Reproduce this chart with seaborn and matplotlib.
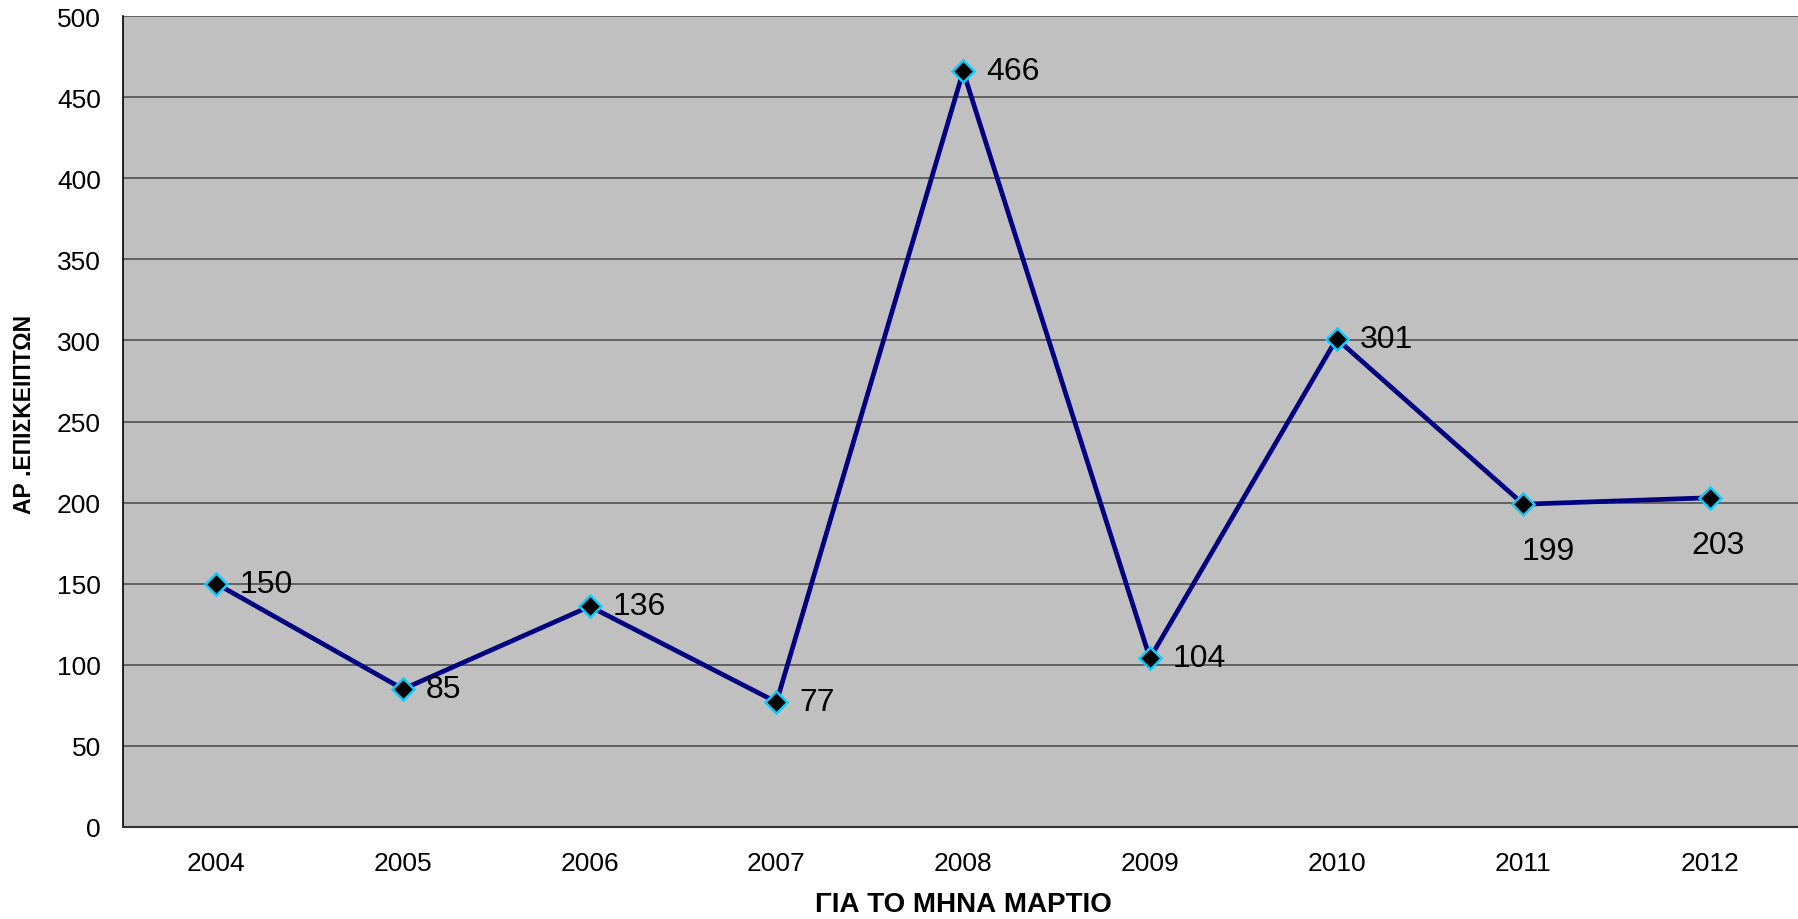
import matplotlib
matplotlib.use('Agg')
import matplotlib.pyplot as plt
import seaborn as sns
import pandas as pd

# Δεδομένα (επισκέπτες για τον μήνα Μάρτιο)
years = ['2004', '2005', '2006', '2007', '2008', '2009', '2010', '2011', '2012']
visitors = [150, 85, 136, 77, 466, 104, 301, 199, 203]
y_ticks = [0, 50, 100, 150, 200, 250, 300, 350, 400, 450, 500]

df = pd.DataFrame({'year': years, 'visitors': visitors})

sns.set_style('white')
plt.rcParams['font.family'] = ['Liberation Sans', 'DejaVu Sans']
plt.rcParams['text.color'] = 'black'
plt.rcParams['xtick.color'] = 'black'
plt.rcParams['ytick.color'] = 'black'
plt.rcParams['axes.labelcolor'] = 'black'

fig = plt.figure(figsize=(17.98, 9.2), dpi=100)
ax = fig.add_axes([0.0684, 0.1, 0.9346, 0.8815])
ax.set_facecolor('#c0c0c0')

sns.lineplot(data=df, x='year', y='visitors', ax=ax, color='#000080', linewidth=3.4,
             marker='D', markersize=11.5, markerfacecolor='black',
             markeredgecolor='#19c8f5', markeredgewidth=1.8, zorder=3)

# ετικέτες τιμών: οι δύο τελευταίες κάτω από το σημείο
label_offsets = {'2011': (25, -47, 'center'), '2012': (8, -47, 'center')}
for i, (yr, v) in enumerate(zip(years, visitors)):
    dx, dy, ha = label_offsets.get(yr, (23, 0, 'left'))
    ax.annotate(str(v), (i, v), xytext=(dx, dy), textcoords='offset pixels',
                ha=ha, va='center', fontsize=23, color='black', zorder=4)

ax.set_xlim(-0.5, len(years) - 0.5)
ax.set_ylim(0, 500)
ax.set_yticks(y_ticks)
ax.set_xticks(range(len(years)))
ax.set_xticklabels(years)
ax.set_xticks([i - 0.5 for i in range(len(years) + 1)], minor=True)

ax.tick_params(axis='x', which='major', length=0, labelsize=19, pad=17.5)
ax.tick_params(axis='x', which='minor', length=7, width=1, color='black', direction='out')
ax.tick_params(axis='y', length=7, width=1, color='black', direction='out', labelsize=19, pad=9)

ax.yaxis.grid(True, color='#5a5a5a', linewidth=1.3)
ax.set_axisbelow(True)
for s in ['top', 'right']:
    ax.spines[s].set_visible(False)
ax.spines['left'].set_color('black')
ax.spines['bottom'].set_color('#333333')
ax.spines['left'].set_linewidth(1.2)
ax.spines['bottom'].set_linewidth(1.5)

ax.set_xlabel('ΓΙΑ ΤΟ ΜΗΝΑ ΜΑΡΤΙΟ', fontsize=20, fontweight='bold', labelpad=11)
ax.set_ylabel('ΑΡ .ΕΠΙΣΚΕΙΠΤΩΝ', fontsize=16.5, fontweight='bold')
ax.yaxis.set_label_coords(-0.052, 0.51)

fig.savefig('out.png', dpi=100)
